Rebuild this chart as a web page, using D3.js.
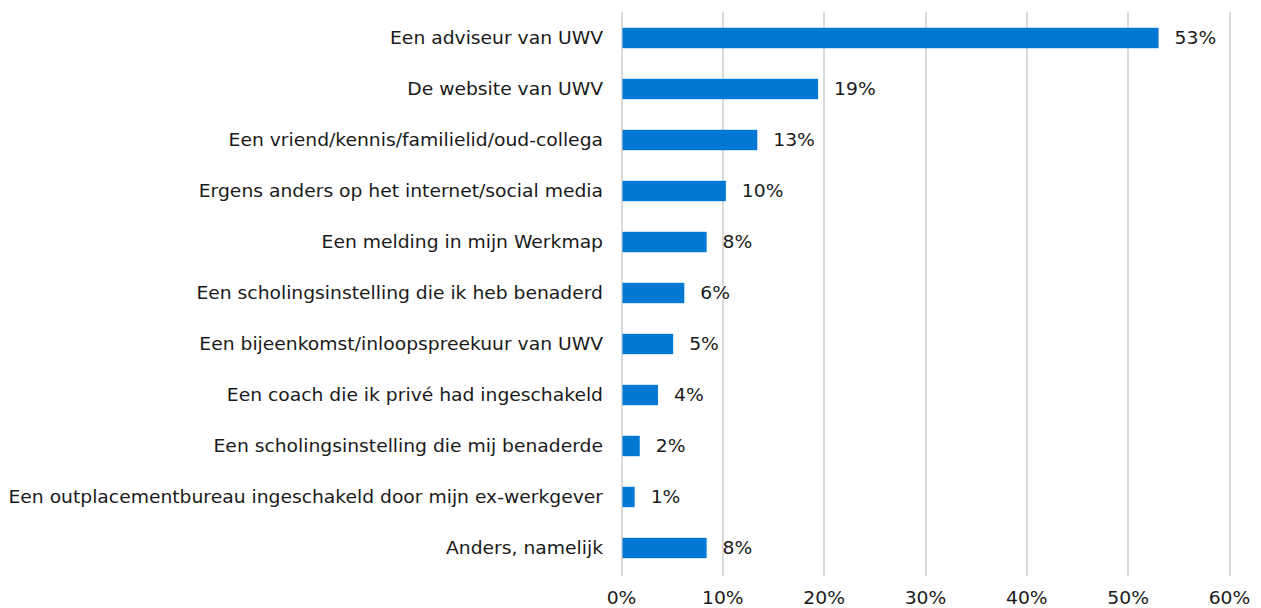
<!DOCTYPE html>
<html>
<head>
<meta charset="utf-8">
<script src="https://cdn.jsdelivr.net/npm/d3@7"></script>
<style>
  html, body { margin: 0; padding: 0; background: #fff; }
  svg { display: block; }
  text { font-family: "DejaVu Sans", Verdana, sans-serif; fill: #1a1a1a; }
</style>
</head>
<body>
<svg id="chart" width="1261" height="608"></svg>
<script>
const categories = [
  "Een adviseur van UWV",
  "De website van UWV",
  "Een vriend/kennis/familielid/oud-collega",
  "Ergens anders op het internet/social media",
  "Een melding in mijn Werkmap",
  "Een scholingsinstelling die ik heb benaderd",
  "Een bijeenkomst/inloopspreekuur van UWV",
  "Een coach die ik privé had ingeschakeld",
  "Een scholingsinstelling die mij benaderde",
  "Een outplacementbureau ingeschakeld door mijn ex-werkgever",
  "Anders, namelijk"
];
const values = [53, 19.4, 13.4, 10.3, 8.4, 6.2, 5.1, 3.6, 1.8, 1.3, 8.4];
const valueLabels = ["53%", "19%", "13%", "10%", "8%", "6%", "5%", "4%", "2%", "1%", "8%"];
const ticks = [0, 10, 20, 30, 40, 50, 60];

const FS = 16.8, SX = 1.115;
const svg = d3.select("#chart");
const x = d3.scaleLinear().domain([0, 60]).range([621.5, 1229.5]);
const y = d3.scaleBand().domain(categories).range([12.5, 573.5]).paddingInner(0.6).paddingOuter(0.3);

// gridlines
svg.append("g").selectAll("line").data(ticks).join("line")
  .attr("x1", d => Math.round(x(d)))
  .attr("x2", d => Math.round(x(d)))
  .attr("y1", 12).attr("y2", 576)
  .attr("stroke", "#d9d9d9").attr("stroke-width", 2);

// x tick labels
svg.append("g").selectAll("text").data(ticks).join("text")
  .attr("transform", d => `translate(${x(d)},604) scale(${SX},1)`)
  .attr("text-anchor", "middle")
  .attr("font-size", FS)
  .text(d => d + "%");

// bars
svg.append("g").selectAll("rect").data(values).join("rect")
  .attr("x", x(0) + 1)
  .attr("y", (d, i) => y(categories[i]))
  .attr("width", d => x(d) - x(0) - 1)
  .attr("height", y.bandwidth())
  .attr("fill", "#0078d4");

// value labels
svg.append("g").selectAll("text").data(values).join("text")
  .attr("transform", (d, i) => `translate(${x(d) + 16},${y(categories[i]) + y.bandwidth() / 2}) scale(${SX},1)`)
  .attr("dy", "0.36em")
  .attr("font-size", FS)
  .text((d, i) => valueLabels[i]);

// category labels
svg.append("g").selectAll("text").data(categories).join("text")
  .attr("transform", d => `translate(603,${y(d) + y.bandwidth() / 2}) scale(${SX},1)`)
  .attr("dy", "0.36em")
  .attr("text-anchor", "end")
  .attr("font-size", FS)
  .text(d => d);
</script>
</body>
</html>
